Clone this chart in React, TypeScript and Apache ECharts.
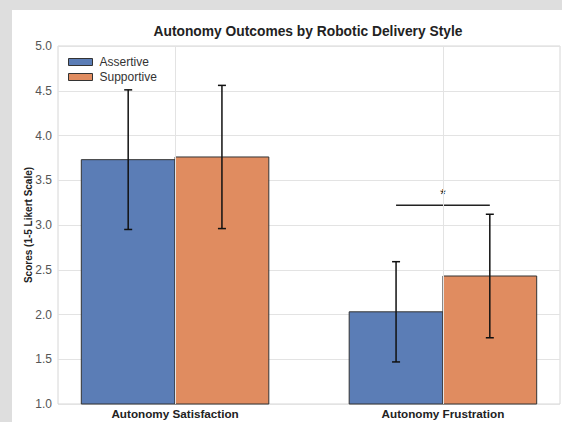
import React, { useEffect, useRef } from "react";
import * as echarts from "echarts";

const categories = ["Autonomy Satisfaction", "Autonomy Frustration"];
const seriesNames = ["Assertive", "Supportive"];
const assertiveMeans = [3.73, 2.03];
const assertiveSD = [0.78, 0.56];
const supportiveMeans = [3.76, 2.43];
const supportiveSD = [0.8, 0.69];
const yTicks = [1.0, 1.5, 2.0, 2.5, 3.0, 3.5, 4.0, 4.5, 5.0];
const sigCategory = 1;
const sigLevel = 3.22;
const sigLabel = "*";

const BAR_W = 0.35;
const COLORS = ["#5b7db6", "#e08c60"];

function barRender(offset: number) {
  return (params: any, api: any) => {
    const x = api.value(0) + offset;
    const v = api.value(1);
    const sd = api.value(2);
    const p0 = api.coord([x - BAR_W / 2, v]);
    const p1 = api.coord([x + BAR_W / 2, 1]);
    const c = api.coord([x, v]);
    const top = api.coord([x, v + sd]);
    const bot = api.coord([x, v - sd]);
    const cap = 4;
    return {
      type: "group",
      children: [
        {
          type: "rect",
          shape: { x: p0[0], y: p0[1], width: p1[0] - p0[0], height: p1[1] - p0[1] },
          style: { fill: api.visual("color"), stroke: "#333", lineWidth: 1 },
        },
        {
          type: "line",
          shape: { x1: c[0], y1: top[1], x2: c[0], y2: bot[1] },
          style: { stroke: "#111", lineWidth: 1.5 },
        },
        {
          type: "line",
          shape: { x1: c[0] - cap, y1: top[1], x2: c[0] + cap, y2: top[1] },
          style: { stroke: "#111", lineWidth: 1.5 },
        },
        {
          type: "line",
          shape: { x1: c[0] - cap, y1: bot[1], x2: c[0] + cap, y2: bot[1] },
          style: { stroke: "#111", lineWidth: 1.5 },
        },
      ],
    };
  };
}

export default function App() {
  const ref = useRef<HTMLDivElement>(null);
  useEffect(() => {
    if (!ref.current) return;
    const chart = echarts.init(ref.current, undefined, { renderer: "svg" });
    const font = "'Liberation Sans', Arial, sans-serif";
    const catIdx = categories.map((_, i) => i);
    chart.setOption({
      animation: false,
      backgroundColor: "#ffffff",
      textStyle: { fontFamily: font },
      title: {
        text: "Autonomy Outcomes by Robotic Delivery Style",
        left: 291,
        textAlign: "center",
        top: 9,
        textStyle: { fontSize: 13.8, fontWeight: "bold", color: "#222", fontFamily: font },
      },
      legend: {
        orient: "vertical",
        left: 56,
        top: 46,
        padding: 0,
        itemWidth: 24,
        itemHeight: 7,
        itemGap: 3,
        icon: "rect",
        data: seriesNames,
        textStyle: { fontSize: 12, color: "#333", fontFamily: font, padding: [0, 0, 0, 2] },
        itemStyle: { borderColor: "#333", borderWidth: 1 },
      },
      grid: {
        left: 46,
        right: 2,
        top: 36,
        bottom: 18,
        show: true,
        borderColor: "#d6d6d6",
        borderWidth: 1,
        containLabel: false,
        outerBoundsMode: "none",
      },
      xAxis: {
        type: "value",
        min: -0.437,
        max: 1.437,
        axisLine: { show: false },
        axisTick: { show: false, customValues: catIdx },
        splitLine: { show: false },
        axisLabel: {
          customValues: catIdx,
          formatter: (v: number) => categories[Math.round(v)] ?? "",
          fontSize: 11.7,
          fontWeight: "bold",
          color: "#222",
          margin: 3,
          fontFamily: font,
        },
      },
      yAxis: {
        type: "value",
        min: 1,
        max: 5,
        interval: 0.5,
        name: "Scores (1-5 Likert Scale)",
        nameLocation: "middle",
        nameGap: 25,
        nameMoveOverlap: false,
        nameTextStyle: { fontSize: 10, fontWeight: "bold", color: "#222", fontFamily: font },
        axisLine: { show: false },
        axisTick: { show: false },
        splitLine: { show: true, lineStyle: { color: "#e3e3e3", width: 1 } },
        axisLabel: {
          formatter: (v: number) => v.toFixed(1),
          fontSize: 12,
          color: "#555",
          margin: 6,
          fontFamily: font,
          customValues: yTicks,
        },
      },
      series: [
        {
          type: "line",
          name: "grid",
          data: [],
          z: 0,
          silent: true,
          markLine: {
            silent: true,
            symbol: "none",
            label: { show: false },
            lineStyle: { color: "#e3e3e3", width: 1, type: "solid" },
            data: catIdx.map((i) => ({ xAxis: i })),
          },
        },
        {
          type: "custom",
          name: seriesNames[0],
          itemStyle: { color: COLORS[0] },
          renderItem: barRender(-BAR_W / 2),
          data: catIdx.map((i) => [i, assertiveMeans[i], assertiveSD[i]]),
          z: 2,
        },
        {
          type: "custom",
          name: seriesNames[1],
          itemStyle: { color: COLORS[1] },
          renderItem: barRender(BAR_W / 2),
          data: catIdx.map((i) => [i, supportiveMeans[i], supportiveSD[i]]),
          z: 2,
        },
        {
          type: "custom",
          name: "sig",
          renderItem: (params: any, api: any) => {
            const a = api.coord([api.value(0) - BAR_W / 2, api.value(1)]);
            const b = api.coord([api.value(0) + BAR_W / 2, api.value(1)]);
            return {
              type: "group",
              children: [
                {
                  type: "line",
                  shape: { x1: a[0], y1: a[1], x2: b[0], y2: b[1] },
                  style: { stroke: "#222", lineWidth: 1.5 },
                },
                {
                  type: "text",
                  style: {
                    x: (a[0] + b[0]) / 2,
                    y: a[1] - 4,
                    text: sigLabel,
                    fill: "#222",
                    fontSize: 15,
                    fontFamily: font,
                    align: "center",
                    verticalAlign: "bottom",
                  },
                },
              ],
            };
          },
          data: [[sigCategory, sigLevel]],
          z: 3,
        },
      ],
    });
    return () => chart.dispose();
  }, []);
  return (
    <div
      style={{
        position: "fixed",
        left: 0,
        top: 0,
        width: 562,
        height: 422,
        background: "#dedede",
        overflow: "hidden",
      }}
    >
      <div
        ref={ref}
        style={{ position: "absolute", left: 12, top: 10, width: 550, height: 412, background: "#fff" }}
      />
    </div>
  );
}
